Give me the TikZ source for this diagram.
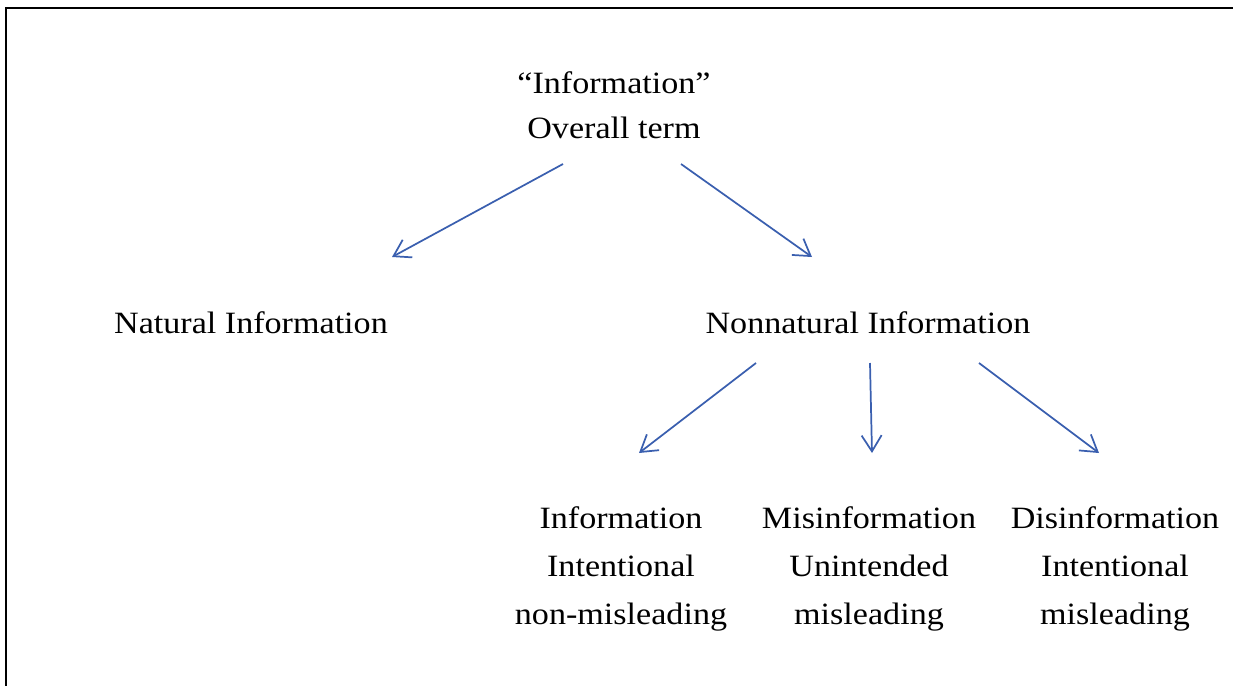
\documentclass[tikz,border=0pt]{standalone}
\usepackage{fontspec}
\setmainfont[FakeStretch=1.1]{Liberation Serif}
\usetikzlibrary{arrows.meta}
\definecolor{arrowblue}{RGB}{58,95,175}
\tikzset{
  lbl/.style={align=center, inner sep=0pt, font=\fontsize{23.25pt}{36pt}\selectfont},
  lbltitle/.style={lbl, font=\fontsize{23.25pt}{34pt}\selectfont},
  arr/.style={draw=arrowblue, line width=1.3pt, -{Straight Barb[length=12pt, width=15pt, line width=1.3pt]}},
  frame/.style={draw=black, line width=1.6pt}
}
\begin{document}
\begin{tikzpicture}[x=0.75pt, y=-0.75pt]
\useasboundingbox (0,0) rectangle (1233,686);
\draw[frame] (6,690) -- (6,8) -- (1240,8);

\node[lbltitle] (title) at (614,105) {``Information''\\Overall term};
\node[lbl] (nat) at (251,323) {Natural Information};
\node[lbl] (nonnat) at (868,323) {Nonnatural Information};
\node[lbl] (info) at (621,569) {Information\\Intentional\\non-misleading};
\node[lbl] (misinfo) at (869,569) {Misinformation\\Unintended\\misleading};
\node[lbl] (disinfo) at (1115,569) {Disinformation\\Intentional\\misleading};

\coordinate (t1) at (563,164);
\coordinate (t2) at (681,164);
\coordinate (n1) at (392,257);
\coordinate (n2) at (812,257);
\coordinate (s1) at (756,363);
\coordinate (s2) at (870,363);
\coordinate (s3) at (979,363);
\coordinate (e1) at (639,453);
\coordinate (e2) at (872,453);
\coordinate (e3) at (1099,453);

\draw[arr] (t1) -- (n1);
\draw[arr] (t2) -- (n2);
\draw[arr] (s1) -- (e1);
\draw[arr] (s2) -- (e2);
\draw[arr] (s3) -- (e3);
\end{tikzpicture}
\end{document}
